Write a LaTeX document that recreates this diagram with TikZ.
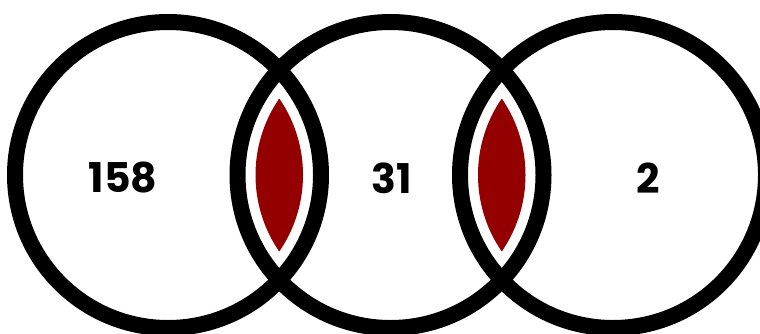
\documentclass[tikz,border=0pt]{standalone}
\usepackage{fontspec}
\setmainfont{Poppins}
\definecolor{lensred}{RGB}{148,0,0}
\begin{document}
\begin{tikzpicture}[x=1pt,y=1pt,every node/.style={font=\bfseries\fontsize{41}{41}\selectfont}]
\useasboundingbox (0,0) rectangle (760,333);
\coordinate (cA) at (168,158);
\coordinate (cB) at (390.5,158);
\coordinate (cC) at (613,158);
% red lenses
\begin{scope}
\clip (cA) circle (135);
\fill[lensred] (cB) circle (135);
\end{scope}
\begin{scope}
\clip (cB) circle (135);
\fill[lensred] (cC) circle (135);
\end{scope}
% rings
\draw[line width=16pt] (cA) circle (153);
\draw[line width=16pt] (cB) circle (153);
\draw[line width=16pt] (cC) circle (153);
% counts
\node (nA) at (123,155) {158};
\node (nB) at (392,155) {31};
\node (nC) at (648,155) {2};
\end{tikzpicture}
\end{document}
